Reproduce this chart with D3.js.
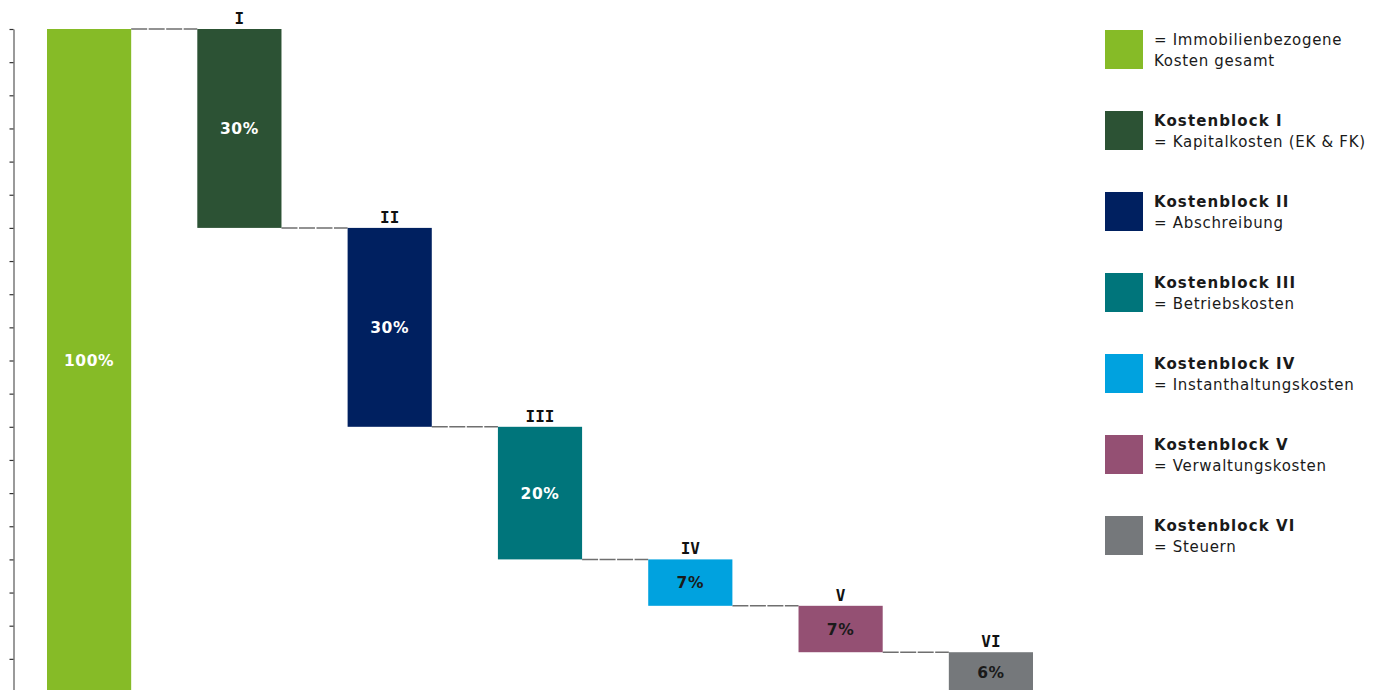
<!DOCTYPE html>
<html>
<head>
<meta charset="utf-8">
<script src="https://cdn.jsdelivr.net/npm/d3@7"></script>
<style>
  html, body { margin: 0; padding: 0; background: #fff; }
  svg { display: block; }
</style>
</head>
<body>
<svg id="chart" width="1383" height="690"></svg>
<script>
// ---- data ----
const categories = ["Gesamt", "I", "II", "III", "IV", "V", "VI"];
const values = [100, 30, 30, 20, 7, 7, 6];
const valueLabels = ["100%", "30%", "30%", "20%", "7%", "7%", "6%"];
const topLabels = ["", "I", "II", "III", "IV", "V", "VI"];
const colors = ["#86bb27", "#2c5234", "#002060", "#00757b", "#00a2df", "#945073", "#75787b"];
const labelColors = ["#ffffff", "#ffffff", "#ffffff", "#ffffff", "#1a1a1a", "#1a1a1a", "#1a1a1a"];
const legendTitles = ["", "Kostenblock I", "Kostenblock II", "Kostenblock III", "Kostenblock IV", "Kostenblock V", "Kostenblock VI"];
const legendTexts = [["= Immobilienbezogene", "Kosten gesamt"], ["= Kapitalkosten (EK & FK)"], ["= Abschreibung"], ["= Betriebskosten"], ["= Instanthaltungskosten"], ["= Verwaltungskosten"], ["= Steuern"]];
const yTicks = d3.range(0, 101, 5);

// ---- layout ----
const svg = d3.select("#chart");
const font = "'DejaVu Sans', Verdana, sans-serif";

const x = d3.scaleBand().domain(categories).range([47, 1033]).paddingInner(0.44).paddingOuter(0);
const y = d3.scaleLinear().domain([0, 100]).range([692, 29]);

// waterfall ranges
let cum = 100;
const bars = categories.map((c, i) => {
  if (i === 0) return { c, i, lo: 0, hi: values[0] };
  const hi = cum, lo = cum - values[i];
  cum = lo;
  return { c, i, lo, hi };
});

// axis
const axis = d3.axisLeft(y).tickValues(yTicks).tickFormat("").tickSizeInner(4).tickSizeOuter(0);
const ag = svg.append("g").attr("transform", "translate(13.5,0)").call(axis);
ag.select(".domain").attr("stroke", "#9a9a9a").attr("stroke-width", 2);
ag.selectAll(".tick line").attr("stroke", "#333").attr("stroke-width", 1.2);

// connectors
for (let i = 0; i < bars.length - 1; i++) {
  const yy = y(bars[i + 1].hi);
  svg.append("line")
    .attr("x1", x(bars[i].c) + x.bandwidth())
    .attr("x2", x(bars[i + 1].c))
    .attr("y1", yy).attr("y2", yy)
    .attr("stroke", "#6f6f6f").attr("stroke-width", 1.5)
    .attr("stroke-dasharray", "16,1.5");
}

// bars
svg.selectAll("rect.bar").data(bars).enter().append("rect")
  .attr("class", "bar")
  .attr("x", d => x(d.c))
  .attr("width", x.bandwidth())
  .attr("y", d => y(d.hi))
  .attr("height", d => y(d.lo) - y(d.hi))
  .attr("fill", (d, i) => colors[i]);

// value labels
svg.selectAll("text.val").data(bars).enter().append("text")
  .attr("class", "val")
  .attr("x", d => x(d.c) + x.bandwidth() / 2)
  .attr("y", d => (y(d.lo) + y(d.hi)) / 2)
  .attr("dy", "0.36em")
  .attr("text-anchor", "middle")
  .attr("font-family", font).attr("font-weight", "bold").attr("font-size", 15.5)
  .attr("letter-spacing", 0.6)
  .attr("fill", (d, i) => labelColors[i])
  .text((d, i) => valueLabels[i]);

// top labels
svg.selectAll("text.top").data(bars.filter((d, i) => topLabels[i])).enter().append("text")
  .attr("class", "top")
  .attr("x", d => x(d.c) + x.bandwidth() / 2)
  .attr("y", d => y(d.hi) - 5)
  .attr("text-anchor", "middle")
  .attr("font-family", "'DejaVu Sans Mono', monospace").attr("font-weight", "bold").attr("font-size", 16)
  .attr("fill", "#111")
  .text(d => topLabels[d.i]);

// legend
const lg = svg.append("g");
categories.forEach((c, i) => {
  const top = 30 + i * 81;
  lg.append("rect").attr("x", 1105).attr("y", top).attr("width", 38).attr("height", 39).attr("fill", colors[i]);
  const lines = [];
  if (legendTitles[i]) lines.push({ t: legendTitles[i], b: true });
  legendTexts[i].forEach(t => lines.push({ t, b: false }));
  lines.forEach((l, j) => {
    lg.append("text")
      .attr("x", 1154).attr("y", top + 15 + j * 21)
      .attr("font-family", font).attr("font-size", 15)
      .attr("font-weight", l.b ? "bold" : "normal")
      .attr("letter-spacing", l.b ? 1.1 : 0.7)
      .attr("fill", "#1a1a1a")
      .text(l.t);
  });
});
</script>
</body>
</html>
